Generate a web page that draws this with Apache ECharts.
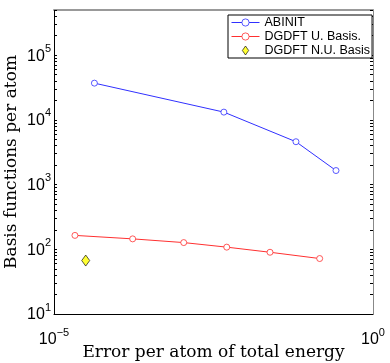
<!DOCTYPE html>
<html>
<head>
<meta charset="utf-8">
<script src="https://cdn.jsdelivr.net/npm/echarts@6/dist/echarts.min.js"></script>
<style>
  html, body { margin: 0; padding: 0; background: #fff; }
  #chart { width: 390px; height: 363px; }
</style>
</head>
<body>
<div id="chart"></div>
<script>
// ABINIT
const abinitErr = [4.3e-5, 4.6e-3, 0.062, 0.263];
const abinitBasis = [37000, 13200, 4600, 1650];
// DGDFT uniform basis
const uniErr = [2.13e-5, 1.71e-4, 1.08e-3, 5.1e-3, 0.0243, 0.146];
const uniBasis = [164, 145, 127, 108, 90, 72];
// DGDFT non-uniform basis
const nuErr = [3.14e-5];
const nuBasis = [67];

const xTicks = [1e-5, 1];
const yTicks = [10, 100, 1000, 10000, 100000];
const yMinor = [];
for (let d = 10; d < 1e6; d *= 10) {
  for (let k = 1; k < 10; k++) {
    const v = d * k;
    if (v <= 5e5) yMinor.push(v);
  }
}

const zip = (a, b) => a.map((v, i) => [v, b[i]]);

// 10 with superscript exponent
const sup = (v) => {
  const e = Math.round(Math.log10(v));
  return "{b|10}{s|" + (e < 0 ? "\u2212" + (-e) : e) + "}";
};
const rich = {
  b: { fontFamily: "Liberation Sans", fontSize: 16, color: "#000", lineHeight: 18, verticalAlign: "bottom" },
  s: { fontFamily: "Liberation Sans", fontSize: 11, color: "#000", lineHeight: 12, padding: [0, 0, 10, 0], verticalAlign: "bottom" },
};
const titleFont = { fontFamily: "DejaVu Serif", fontSize: 17, color: "#000" };

const chart = echarts.init(document.getElementById("chart"));
const option = {
  animation: false,
  grid: { left: 54, right: 17, top: 10, bottom: 49, outerBoundsMode: "none" },
  legend: {
    left: 228,
    top: 15,
    orient: "vertical",
    backgroundColor: "#fff",
    borderColor: "#000",
    borderWidth: 1,
    padding: [1, 2, 1, 3],
    itemGap: 1,
    itemWidth: 28,
    itemHeight: 9,
    itemStyle: { borderWidth: 0.8 },
    lineStyle: { width: 1 },
    textStyle: { fontFamily: "Liberation Sans", fontSize: 12.5, color: "#000" },
    data: [
      { name: "ABINIT" },
      { name: "DGDFT U. Basis." },
      { name: "DGDFT N.U. Basis", icon: "path://M0,-1L0.7,0L0,1L-0.7,0Z" },
    ],
  },
  xAxis: [
    {
      type: "log",
      logBase: 10,
      min: 1e-5,
      max: 1,
      name: "Error per atom of total energy",
      nameLocation: "middle",
      nameGap: 30,
      nameMoveOverlap: false,
      nameTextStyle: titleFont,
      axisLine: { lineStyle: { color: "#000", width: 1 } },
      axisTick: { show: false },
      splitLine: { show: false },
      axisLabel: {
        customValues: xTicks,
        formatter: sup,
        rich: rich,
        margin: 16,
      },
    },
    {
      type: "log",
      logBase: 10,
      min: 1e-5,
      max: 1,
      position: "top",
      axisLine: { lineStyle: { color: "#999", width: 2 } },
      axisTick: { show: false },
      axisLabel: { show: false },
      splitLine: { show: false },
    },
  ],
  yAxis: [
    {
      type: "log",
      logBase: 10,
      min: 10,
      max: 5e5,
      name: "Basis functions per atom",
      nameLocation: "middle",
      nameGap: 34,
      nameMoveOverlap: false,
      nameTextStyle: titleFont,
      axisLine: { show: true, lineStyle: { color: "#000", width: 1 } },
      axisTick: { show: true, inside: true, length: 3, customValues: yMinor, lineStyle: { color: "#000" } },
      splitLine: { show: false },
      axisLabel: {
        customValues: yTicks,
        formatter: sup,
        rich: rich,
        margin: 3,
      },
    },
    {
      type: "log",
      logBase: 10,
      min: 10,
      max: 5e5,
      position: "right",
      axisLine: { show: true, lineStyle: { color: "#888", width: 1 } },
      axisTick: { show: true, inside: true, length: 3, customValues: yMinor, lineStyle: { color: "#000" } },
      axisLabel: { show: false },
      splitLine: { show: false },
    },
  ],
  series: [
    {
      name: "ABINIT",
      type: "line",
      data: zip(abinitErr, abinitBasis),
      symbol: "circle",
      symbolSize: 6,
      lineStyle: { color: "#3030ff", width: 1 },
      itemStyle: { color: "#fff", borderColor: "#3030ff", borderWidth: 0.8 },
    },
    {
      name: "DGDFT U. Basis.",
      type: "line",
      data: zip(uniErr, uniBasis),
      symbol: "circle",
      symbolSize: 6,
      lineStyle: { color: "#ff3030", width: 1 },
      itemStyle: { color: "#fff", borderColor: "#ff3030", borderWidth: 0.8 },
    },
    {
      name: "DGDFT N.U. Basis",
      type: "scatter",
      data: zip(nuErr, nuBasis),
      symbol: "diamond",
      symbolSize: [8, 11],
      symbolKeepAspect: true,
      itemStyle: { color: "#ffff00", borderColor: "#000", borderWidth: 0.8 },
    },
  ],
};
chart.setOption(option);
</script>
</body>
</html>
